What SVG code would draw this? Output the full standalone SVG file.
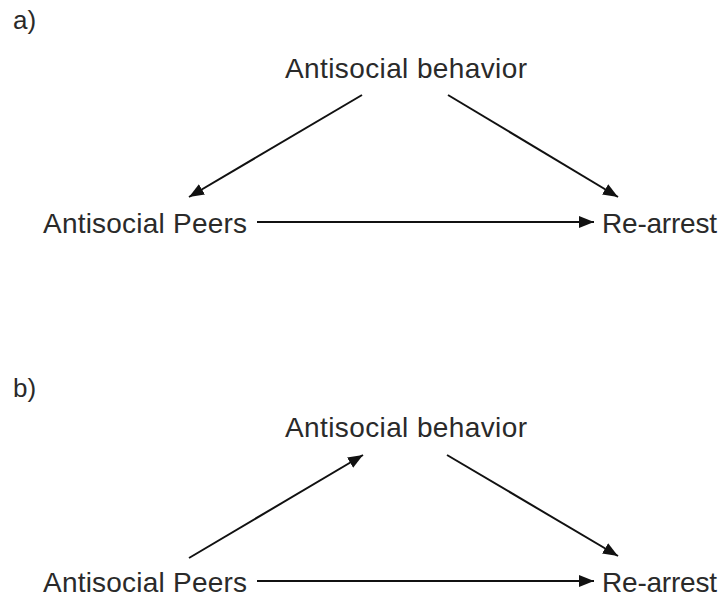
<svg xmlns="http://www.w3.org/2000/svg" width="722" height="605" viewBox="0 0 722 605">
<style>
text{font-family:"Liberation Sans",Arial,sans-serif;fill:#2a2a2a}
.lbl{font-size:28px}
.pan{font-size:26px}
.c{stroke:#111;stroke-width:2;fill:none;marker-end:url(#ah)}
</style>
<defs>
<marker id="ah" markerUnits="userSpaceOnUse" markerWidth="15" markerHeight="12" viewBox="0 0 15 12" refX="15" refY="6" orient="auto">
<path d="M0,0 L15,6 L0,12 Z" fill="#111"/>
</marker>
</defs>
<rect width="722" height="605" fill="#fff"/>
<g id="panel-a">
<text class="pan" x="13" y="29">a)</text>
<g id="a-behavior"><text class="lbl" x="406" y="78" text-anchor="middle" textLength="242">Antisocial behavior</text></g>
<g id="a-peers"><text class="lbl" x="43" y="233" textLength="204">Antisocial Peers</text></g>
<g id="a-rearrest"><text class="lbl" x="602" y="233" textLength="115">Re-arrest</text></g>
<g id="a-connectors">
<line class="c" x1="362" y1="95" x2="189" y2="197"/>
<line class="c" x1="448" y1="95" x2="618" y2="197"/>
<line class="c" x1="257" y1="222" x2="594" y2="222"/>
</g>
</g>
<g id="panel-b">
<text class="pan" x="13" y="397">b)</text>
<g id="b-behavior"><text class="lbl" x="406" y="437" text-anchor="middle" textLength="242">Antisocial behavior</text></g>
<g id="b-peers"><text class="lbl" x="43" y="592" textLength="204">Antisocial Peers</text></g>
<g id="b-rearrest"><text class="lbl" x="602" y="592" textLength="115">Re-arrest</text></g>
<g id="b-connectors">
<line class="c" x1="189" y1="558" x2="363" y2="455"/>
<line class="c" x1="447" y1="455" x2="618" y2="556"/>
<line class="c" x1="257" y1="581" x2="594" y2="581"/>
</g>
</g>
</svg>
